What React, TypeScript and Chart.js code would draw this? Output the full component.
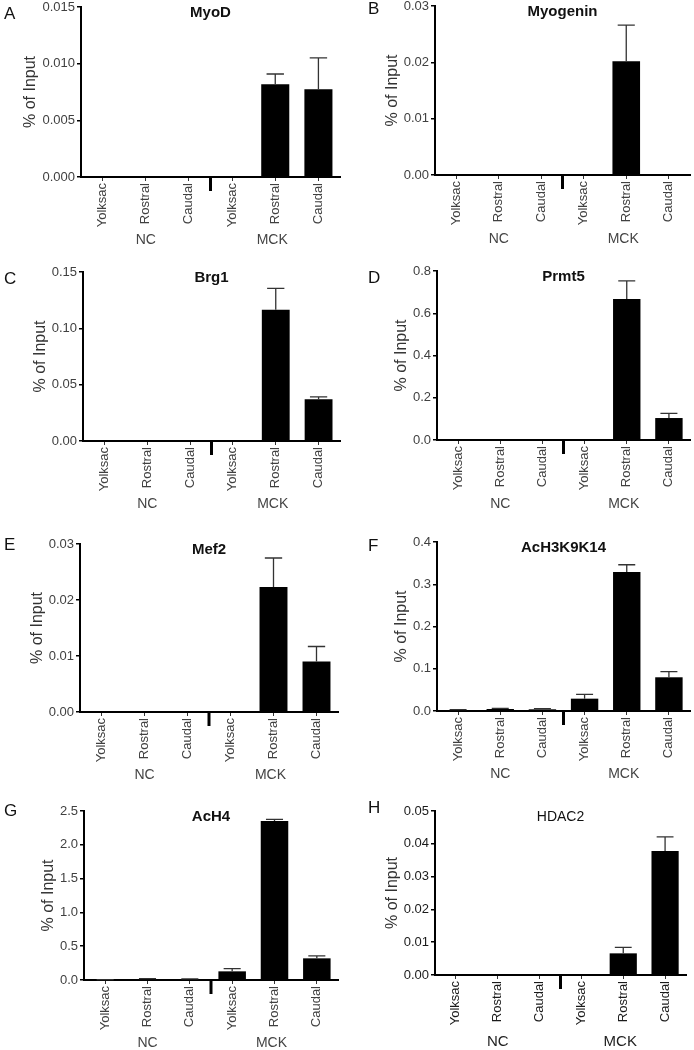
import React, { useEffect, useRef } from "react";
import { Chart, registerables } from "chart.js";

Chart.register(...registerables);

// ---------- data ----------
const categories = ["Yolksac", "Rostral", "Caudal", "Yolksac", "Rostral", "Caudal"];
const groupLabels = ["NC", "MCK"];
const groupCenterIndex = [1, 4];

const myodValues = [0, 0, 0, 0, 0.00818, 0.00774];
const myodErrors = [0, 0, 0, 0, 0.00091, 0.00277];

const myogeninValues = [0, 0, 0, 0, 0.0202, 0];
const myogeninErrors = [0, 0, 0, 0, 0.0064, 0];

const brg1Values = [0, 0, 0, 0, 0.1166, 0.037];
const brg1Errors = [0, 0, 0, 0, 0.0189, 0.0021];

const prmt5Values = [0, 0, 0, 0, 0.667, 0.104];
const prmt5Errors = [0, 0, 0, 0, 0.086, 0.022];

const mef2Values = [0, 0, 0, 0, 0.0223, 0.009];
const mef2Errors = [0, 0, 0, 0, 0.0052, 0.0027];

const ach3Values = [0.0024, 0.0047, 0.004, 0.0292, 0.3289, 0.0798];
const ach3Errors = [0.0008, 0.0016, 0.0015, 0.0103, 0.0173, 0.0135];

const ach4Values = [0.004, 0.015, 0.012, 0.128, 2.352, 0.3205];
const ach4Errors = [0.002, 0.006, 0.006, 0.04, 0.025, 0.035];

const hdac2Values = [0, 0, 0, 0, 0.0066, 0.0378];
const hdac2Errors = [0, 0, 0, 0, 0.0018, 0.0043];

// ---------- layout ----------
const COL_X = [0, 347];
const ROW_TOP = [0, 265, 530, 795];
const ROW_H = [265, 265, 265, 255];
const CANVAS_W = 357;
const EXTRA_TOP = 10;

type Panel = {
  letter: string;
  title: string;
  values: number[];
  errors: number[];
  yMax: number;
  yStep: number;
  decimals: number;
  col: number;
  row: number;
  L: number;
  R: number;
  T: number;
  B: number;
  letterDy: number;
  groupDy: number;
  dark?: boolean;
};

const panels: Panel[] = [
  { letter: "A", title: "MyoD", values: myodValues, errors: myodErrors, yMax: 0.015, yStep: 0.005, decimals: 3, col: 0, row: 0, L: 81, R: 340, T: 7, B: 177, letterDy: 7, groupDy: 63 },
  { letter: "B", title: "Myogenin", values: myogeninValues, errors: myogeninErrors, yMax: 0.03, yStep: 0.01, decimals: 2, col: 1, row: 0, L: 435, R: 690, T: 6, B: 175, letterDy: 3, groupDy: 64 },
  { letter: "C", title: "Brg1", values: brg1Values, errors: brg1Errors, yMax: 0.15, yStep: 0.05, decimals: 2, col: 0, row: 1, L: 83, R: 340, T: 272, B: 441, letterDy: 7, groupDy: 63 },
  { letter: "D", title: "Prmt5", values: prmt5Values, errors: prmt5Errors, yMax: 0.8, yStep: 0.2, decimals: 1, col: 1, row: 1, L: 437, R: 690, T: 271, B: 440, letterDy: 7, groupDy: 64 },
  { letter: "E", title: "Mef2", values: mef2Values, errors: mef2Errors, yMax: 0.03, yStep: 0.01, decimals: 2, col: 0, row: 2, L: 80, R: 338, T: 544, B: 712, letterDy: 1, groupDy: 63 },
  { letter: "F", title: "AcH3K9K14", values: ach3Values, errors: ach3Errors, yMax: 0.4, yStep: 0.1, decimals: 1, col: 1, row: 2, L: 437, R: 690, T: 542, B: 711, letterDy: 4, groupDy: 63 },
  { letter: "G", title: "AcH4", values: ach4Values, errors: ach4Errors, yMax: 2.5, yStep: 0.5, decimals: 1, col: 0, row: 3, L: 84, R: 338, T: 811, B: 980, letterDy: 0, groupDy: 63 },
  { letter: "H", title: "HDAC2", values: hdac2Values, errors: hdac2Errors, yMax: 0.05, yStep: 0.01, decimals: 2, col: 1, row: 3, L: 435, R: 686, T: 811, B: 975, letterDy: -3, groupDy: 67, dark: true },
];

const FONT = "'Liberation Sans', Arial, sans-serif";

function PanelChart({ p }: { p: Panel }) {
  const ref = useRef<HTMLCanvasElement | null>(null);
  const left = COL_X[p.col];
  const top = ROW_TOP[p.row] - EXTRA_TOP;
  const height = ROW_H[p.row] + EXTRA_TOP;

  useEffect(() => {
    const canvas = ref.current;
    if (!canvas) return;
    const padT = p.T - top;
    const yWidth = p.L - left;
    const padR = left + CANVAS_W - p.R;
    const xHeight = top + height - p.B;
    const tickColor = p.dark ? "#1a1a1a" : "#404040";

    const decor = {
      id: "decor" + p.letter,
      afterDatasetsDraw(chart: any) {
        const ctx = chart.ctx as CanvasRenderingContext2D;
        const xs = chart.scales.x;
        const ys = chart.scales.y;
        const area = chart.chartArea;
        const meta = chart.getDatasetMeta(0);
        ctx.save();
        // error bars
        ctx.strokeStyle = "#333";
        ctx.lineWidth = 1.3;
        p.values.forEach((v, i) => {
          const e = p.errors[i];
          if (!e) return;
          const bar = meta.data[i];
          const x = bar.x;
          const y0 = ys.getPixelForValue(v);
          const y1 = ys.getPixelForValue(v + e);
          const cw = bar.width * 0.62;
          ctx.beginPath();
          ctx.moveTo(x, y0);
          ctx.lineTo(x, y1);
          ctx.moveTo(x - cw / 2, y1);
          ctx.lineTo(x + cw / 2, y1);
          ctx.stroke();
        });
        // group separator
        const sx = (xs.getPixelForValue(2) + xs.getPixelForValue(3)) / 2;
        ctx.strokeStyle = "#000";
        ctx.lineWidth = 3;
        ctx.beginPath();
        ctx.moveTo(sx, area.bottom);
        ctx.lineTo(sx, area.bottom + 14);
        ctx.stroke();
        // title
        ctx.fillStyle = "#111";
        ctx.font = p.dark ? `14px ${FONT}` : `bold 15px ${FONT}`;
        ctx.textAlign = "center";
        ctx.textBaseline = "middle";
        ctx.fillText(p.title, (area.left + area.right) / 2, area.top + 6);
        // panel letter
        ctx.font = `17px ${FONT}`;
        ctx.textAlign = "left";
        ctx.fillStyle = "#111";
        const lx = p.col === 0 ? 4 : 21;
        ctx.fillText(p.letter, lx, area.top + p.letterDy);
        // y title
        ctx.font = `13px ${FONT}`;
        let maxW = 0;
        ys.ticks.forEach((t: any) => {
          const w = ctx.measureText(Number(t.value).toFixed(p.decimals)).width;
          if (w > maxW) maxW = w;
        });
        ctx.font = `16px ${FONT}`;
        ctx.fillStyle = "#333";
        const tx = area.left - 6 - maxW - 4 - 7.5;
        ctx.translate(tx, (area.top + area.bottom) / 2);
        ctx.rotate(-Math.PI / 2);
        ctx.textAlign = "center";
        ctx.fillText("% of Input", 0, 0);
        ctx.setTransform(1, 0, 0, 1, 0, 0);
        // group labels
        ctx.font = p.dark ? `15px ${FONT}` : `14px ${FONT}`;
        ctx.fillStyle = p.dark ? "#222" : "#444";
        ctx.textAlign = "center";
        groupLabels.forEach((g, gi) => {
          const gx = xs.getPixelForValue(groupCenterIndex[gi]);
          ctx.fillText(g, gx - (gi === 1 ? 3 : 0), area.bottom + p.groupDy);
        });
        ctx.restore();
      },
    };

    const chart = new Chart(canvas, {
      type: "bar",
      data: {
        labels: categories,
        datasets: [
          {
            data: p.values,
            backgroundColor: "#000",
            borderWidth: 0,
            barPercentage: 0.65,
            categoryPercentage: 1,
          },
        ],
      },
      options: {
        animation: false,
        responsive: false,
        maintainAspectRatio: false,
        devicePixelRatio: 1,
        layout: { padding: { top: padT, right: padR, left: 0, bottom: 0 } },
        plugins: { legend: { display: false }, tooltip: { enabled: false }, title: { display: false } },
        scales: {
          x: {
            offset: true,
            grid: {
              offset: false,
              display: true,
              drawOnChartArea: false,
              drawTicks: true,
              tickLength: 4,
              color: "#333",
              lineWidth: 1,
            },
            border: { display: true, color: "#000", width: 2 },
            ticks: {
              autoSkip: false,
              minRotation: 90,
              maxRotation: 90,
              padding: 2,
              color: tickColor,
              font: { family: FONT, size: 13 },
            },
            afterFit: (s: any) => {
              s.height = xHeight;
            },
          },
          y: {
            min: 0,
            max: p.yMax,
            grid: {
              display: true,
              drawOnChartArea: false,
              drawTicks: true,
              tickLength: 4,
              color: "#000",
              lineWidth: 1.5,
            },
            border: { display: true, color: "#000", width: 2 },
            ticks: {
              stepSize: p.yStep,
              padding: 2,
              color: tickColor,
              font: { family: FONT, size: 13, lineHeight: 1 },
              callback: (v: any) => Number(v).toFixed(p.decimals),
            },
            afterFit: (s: any) => {
              s.width = yWidth;
            },
          },
        },
      },
      plugins: [decor],
    });
    return () => chart.destroy();
  }, [p]);

  return (
    <canvas
      ref={ref}
      width={CANVAS_W}
      height={height}
      style={{ position: "absolute", left, top, width: CANVAS_W, height }}
    />
  );
}

export default function App() {
  return (
    <div
      style={{
        position: "absolute",
        left: 0,
        top: 0,
        width: 694,
        height: 1050,
        overflow: "hidden",
        background: "#fff",
      }}
    >
      {panels.map((p) => (
        <PanelChart key={p.letter} p={p} />
      ))}
    </div>
  );
}
